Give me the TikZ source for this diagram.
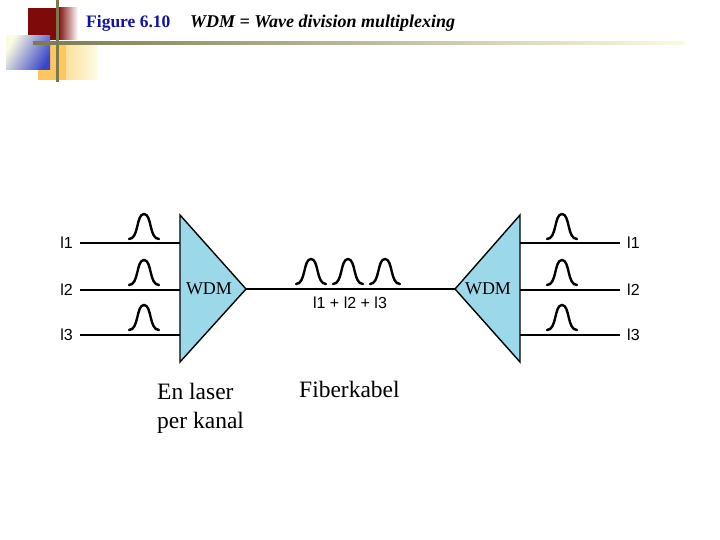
\documentclass[tikz,border=0pt]{standalone}
\usepackage{fontspec}
\setmainfont{Liberation Serif}
\newfontfamily\arialf{Liberation Sans}
\usetikzlibrary{positioning}
\definecolor{wdmblue}{HTML}{9BD8EA}
\definecolor{figblue}{HTML}{1212A0}
\definecolor{barolive}{HTML}{7B7A4E}
\definecolor{barpale}{HTML}{FBFBE2}
\definecolor{sqred}{HTML}{7F0A0A}
\definecolor{sqblue}{HTML}{3A46C8}
\definecolor{sqyellow}{HTML}{FFC65E}

\begin{document}
\begin{tikzpicture}[x=1pt, y=-1pt,
      fiber/.style={line width=1.5pt},
      wdm/.style={draw, line width=1.4pt, fill=wdmblue, line join=miter},
      lam/.style={font=\arialf\fontsize{16}{16}\selectfont, inner sep=0pt},
      wdmtext/.style={font=\fontsize{18}{18}\selectfont, inner sep=0pt},
      note/.style={font=\fontsize{23.5}{29}\selectfont, align=left, inner sep=0pt, anchor=north west},
      pulse/.pic={\draw[line width=2.4pt, line cap=round]
                    (-15,0) .. controls (-5,0) and (-8,-25) .. (0,-25)
                    .. controls (8,-25) and (5,0) .. (15,0);}]
    \useasboundingbox (0,0) rectangle (720,540);
    % corner decoration
    \shade[left color=sqyellow, right color=barpale] (38,45) rectangle (97,80);
    \fill[sqyellow] (38,45) rectangle (66,80);
    \fill[sqred] (28,8) rectangle (58,40);
    \shade[left color=sqred, right color=white] (58,8) rectangle (78,40);
    \shade[left color=barpale, right color=sqblue, shading angle=60] (6,36) rectangle (50,70);
    \shade[left color=barolive, right color=barpale] (33,41.5) rectangle (685,44.5);
    \fill[barolive] (55.5,0) rectangle (58.5,82);
    % title
    \node[anchor=base west, inner sep=0pt, text=figblue, font=\bfseries\fontsize{17.5}{17.5}\selectfont] (fig) at (86,28) {Figure 6.10};
    \node[anchor=base west, inner sep=0pt, font=\bfseries\itshape\fontsize{18}{18}\selectfont] (title) at (190,28) {WDM = Wave division multiplexing};
    % multiplexers
    \draw[wdm] (180,215) coordinate (ltop) -- (180,362) coordinate (lbot) -- (246,289) coordinate (lout) -- cycle;
    \draw[wdm] (520,215) coordinate (rtop) -- (520,362) coordinate (rbot) -- (455,289) coordinate (rin) -- cycle;
    \node[wdmtext] (lwdm) at (209,289) {WDM};
    \node[wdmtext] (rwdm) at (488,289) {WDM};
    % channels in
    \node[lam, anchor=east] (in1) at (73,243) {l1};
    \node[lam, anchor=east] (in2) at (73,290) {l2};
    \node[lam, anchor=east] (in3) at (73,335) {l3};
    \draw[fiber, shorten <=7pt] (in1.east) -- (ltop |- in1.east);
    \draw[fiber, shorten <=7pt] (in2.east) -- (ltop |- in2.east);
    \draw[fiber, shorten <=7pt] (in3.east) -- (ltop |- in3.east);
    \pic at (144,239) {pulse};
    \pic at (144,285) {pulse};
    \pic at (144,330) {pulse};
    % fiber
    \draw[fiber] (lout) -- (rin);
    \pic at (311,284) {pulse};
    \pic at (348,284) {pulse};
    \pic at (385,284) {pulse};
    \node[lam] (sum) at (350,303) {l1 + l2 + l3};
    % channels out
    \node[lam, anchor=west] (out1) at (627,243) {l1};
    \node[lam, anchor=west] (out2) at (627,290) {l2};
    \node[lam, anchor=west] (out3) at (627,335) {l3};
    \draw[fiber, shorten <=7pt] (out1.west) -- (rtop |- out1.west);
    \draw[fiber, shorten <=7pt] (out2.west) -- (rtop |- out2.west);
    \draw[fiber, shorten <=7pt] (out3.west) -- (rtop |- out3.west);
    \pic at (562,239) {pulse};
    \pic at (562,285) {pulse};
    \pic at (562,330) {pulse};
    % notes
    \node[note] (laser) at (157,383) {En laser\\per kanal};
    \node[note] (kabel) at (299,381) {Fiberkabel};
  \end{tikzpicture}
\end{document}
